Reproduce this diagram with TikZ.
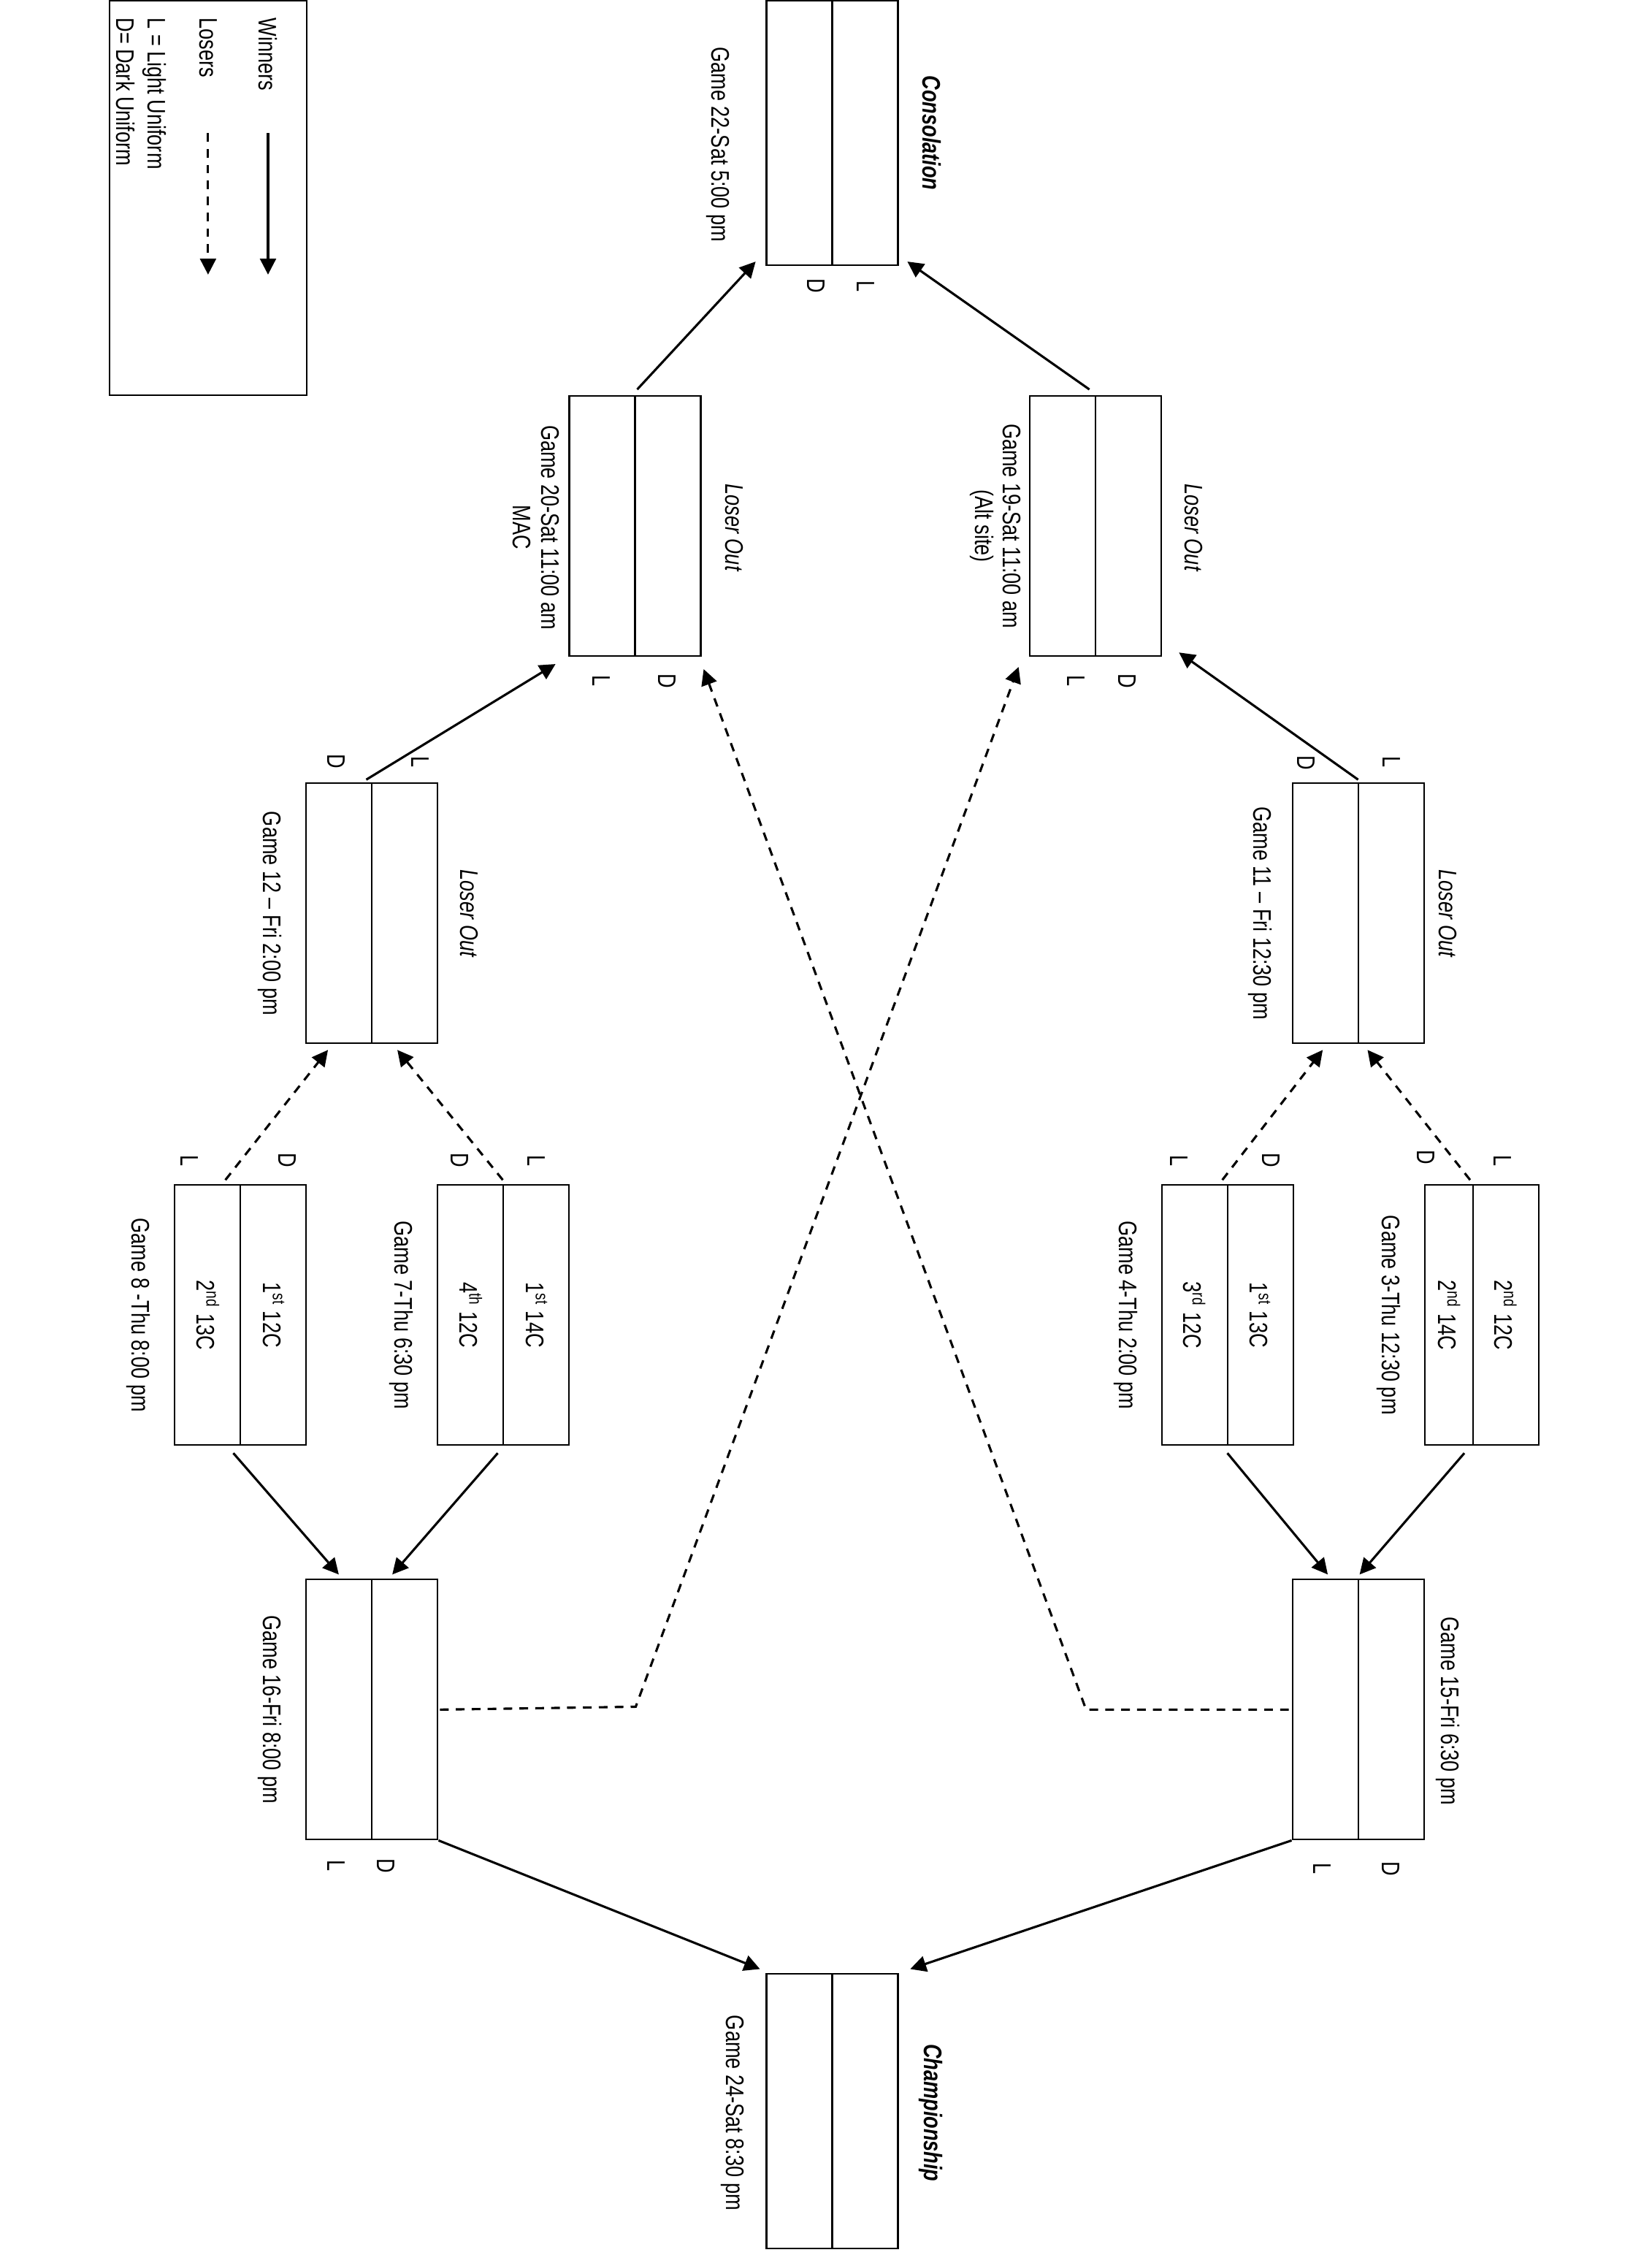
\documentclass[tikz,border=0pt]{standalone}
\usepackage{fontspec}
\setmainfont{Liberation Sans}[FakeStretch=0.78]
\usetikzlibrary{arrows.meta}

\tikzset{
  game/.style={draw,line width=0.6pt,minimum width=1.82cm,minimum height=3.6cm,inner sep=0pt,
    path picture={\draw[line width=0.6pt] ([xshift=#1]path picture bounding box.north)--([xshift=#1]path picture bounding box.south);}},
  game/.default=0pt,
  lbl/.style={rotate=-90,inner sep=0pt,align=center,font=\fontsize{10}{11}\selectfont},
  title/.style={lbl,font=\fontsize{10}{11}\selectfont\bfseries\itshape},
  win/.style={line width=0.9pt,-{Triangle[length=0.22cm,width=0.22cm]}},
  lose/.style={win,dash pattern=on 0.12cm off 0.1cm},
}

\begin{document}
\begin{tikzpicture}[x=0.02cm,y=-0.02cm]
  \useasboundingbox (0,0) rectangle (1143,1568);
  % legend
  \node[draw,line width=0.6pt,minimum width=2.73cm,minimum height=5.46cm] (key) at (144,136.8) {};
  \node[lbl,anchor=west] (kwin) at (185.5,12) {Winners};
  \node[lbl,anchor=west] (klose) at (144,12) {Losers};
  \node[lbl,anchor=west] (klight) at (107,12) {L = Light Uniform};
  \node[lbl,anchor=west] (kdark) at (87,12) {D= Dark Uniform};
  \coordinate (w0) at (185.5,92); \coordinate (w1) at (185.5,190);
  \coordinate (l0) at (144,92); \coordinate (l1) at (144,190);
  \draw[win] (w0)--(w1);
  \draw[lose] (l0)--(l1);

  % game boxes
  \node[game,minimum height=3.66cm] (g22) at (576,92) {};
  \node[game] (g19) at (758,364) {};
  \node[game] (g20) at (439.5,364) {};
  \node[game] (g11) at (940,632) {};
  \node[game] (g12) at (257.5,632) {};
  \node[game=-0.118cm,minimum width=1.58cm] (g3) at (1025.5,910) {};
  \node[game] (g4) at (849.5,910) {};
  \node[game] (g7) at (348.5,910) {};
  \node[game] (g8) at (166.5,910) {};
  \node[game] (g15) at (940,1183) {};
  \node[game] (g16) at (257.5,1183) {};
  \node[game,minimum height=3.8cm] (g24) at (576,1461) {};

  % teams
  \node[lbl] (t3a) at (1042,910) {2\textsuperscript{nd} 12C};
  \node[lbl] (t3b) at (1003,910) {2\textsuperscript{nd} 14C};
  \node[lbl] (t4a) at (872,910) {1\textsuperscript{st} 13C};
  \node[lbl] (t4b) at (826.5,910) {3\textsuperscript{rd} 12C};
  \node[lbl] (t7a) at (371.5,910) {1\textsuperscript{st} 14C};
  \node[lbl] (t7b) at (326,910) {4\textsuperscript{th} 12C};
  \node[lbl] (t8a) at (189.5,910) {1\textsuperscript{st} 12C};
  \node[lbl] (t8b) at (144,910) {2\textsuperscript{nd} 13C};

  % titles and times
  \node[title] (c22) at (645,92) {Consolation};
  \node[title] (c24) at (644,1462) {Championship};
  \node[lbl] (n22) at (497,100) {Game 22-Sat 5:00 pm};
  \node[lbl] (n24) at (507,1462) {Game 24-Sat 8:30 pm};
  \node[lbl] (n19) at (689,364) {Game 19-Sat 11:00 am\\(Alt site)};
  \node[lbl] (n20) at (371,365) {Game 20-Sat 11:00 am\\MAC};
  \node[lbl] (n11) at (872,632) {Game 11 – Fri 12:30 pm};
  \node[lbl] (n12) at (187,632) {Game 12 – Fri 2:00 pm};
  \node[lbl] (n3) at (961,910) {Game 3-Thu 12:30 pm};
  \node[lbl] (n4) at (779,910) {Game 4-Thu 2:00 pm};
  \node[lbl] (n7) at (278,910) {Game 7-Thu 6:30 pm};
  \node[lbl] (n8) at (96,910) {Game 8 -Thu 8:00 pm};
  \node[lbl] (n15) at (1002,1184) {Game 15-Fri 6:30 pm};
  \node[lbl] (n16) at (187,1183) {Game 16-Fri 8:00 pm};
  \node[lbl,font=\fontsize{10}{11}\selectfont\itshape] (o19) at (826,365) {Loser Out};
  \node[lbl,font=\fontsize{10}{11}\selectfont\itshape] (o20) at (508,365) {Loser Out};
  \node[lbl,font=\fontsize{10}{11}\selectfont\itshape] (o11) at (1002,632) {Loser Out};
  \node[lbl,font=\fontsize{10}{11}\selectfont\itshape] (o12) at (325,632) {Loser Out};

  % uniforms
  \node[lbl] (u22l) at (599,198) {L}; \node[lbl] (u22d) at (565,198) {D};
  \node[lbl] (u19l) at (745,471) {L}; \node[lbl] (u19d) at (780,471) {D};
  \node[lbl] (u20l) at (416,471) {L}; \node[lbl] (u20d) at (461.5,471) {D};
  \node[lbl] (u11l) at (963,527) {L}; \node[lbl] (u11d) at (904,528) {D};
  \node[lbl] (u12l) at (291,527) {L}; \node[lbl] (u12d) at (233,527) {D};
  \node[lbl] (u3l) at (1040,803) {L}; \node[lbl] (u3d) at (987,801) {D};
  \node[lbl] (u4l) at (816,803) {L}; \node[lbl] (u4d) at (880,803) {D};
  \node[lbl] (u7l) at (371,803) {L}; \node[lbl] (u7d) at (318,803) {D};
  \node[lbl] (u8l) at (131,803) {L}; \node[lbl] (u8d) at (199,803) {D};
  \node[lbl] (u15l) at (915,1293) {L}; \node[lbl] (u15d) at (962.5,1293) {D};
  \node[lbl] (u16l) at (233,1291) {L}; \node[lbl] (u16d) at (267,1291) {D};

  % winners
  \draw[win] ([shift={(-12,5)}]g3.south)--([shift={(1,-3)}]g15.north);
  \draw[win] ([shift={(0,5)}]g4.south)--([shift={(-21,-3)}]g15.north);
  \draw[win] ([shift={(-4,5)}]g7.south)--([shift={(14,-3)}]g16.north);
  \draw[win] ([shift={(-5,5)}]g8.south)--([shift={(-23,-3)}]g16.north);
  \draw[win] (g15.south west)--([shift={(8,-3)}]g24.north east);
  \draw[win] (g16.south east)--([shift={(-4,-3)}]g24.north west);
  \draw[win] ([shift={(0,-2)}]g11.north)--([shift={(12,-3)}]g19.south east);
  \draw[win] ([shift={(-4,-2)}]g12.north)--([shift={(-9,5)}]g20.south west);
  \draw[win] ([shift={(-4,-4)}]g19.north)--([shift={(6,-3)}]g22.south east);
  \draw[win] ([shift={(1.5,-4)}]g20.north)--([shift={(-7,-3)}]g22.south west);

  % losers
  \draw[lose] ([shift={(-8,-3)}]g3.north)--([shift={(6.5,4)}]g11.south);
  \draw[lose] ([shift={(-3.5,-3)}]g4.north)--([shift={(-24.5,4)}]g11.south);
  \draw[lose] ([shift={(-0.5,-3)}]g7.north)--([shift={(17.5,4)}]g12.south);
  \draw[lose] ([shift={(-10.5,-3)}]g8.north)--([shift={(-30.5,4)}]g12.south);
  \coordinate (k15) at (751.7,1183);
  \coordinate (k16) at (440,1181);
  \draw[lose] ([xshift=-0.04cm]g15.west)--(k15)--([shift={(1.5,8.5)}]g20.south east);
  \draw[lose] ([xshift=0.02cm]g16.east)--(k16)--([shift={(-7,7)}]g19.south west);
\end{tikzpicture}
\end{document}
